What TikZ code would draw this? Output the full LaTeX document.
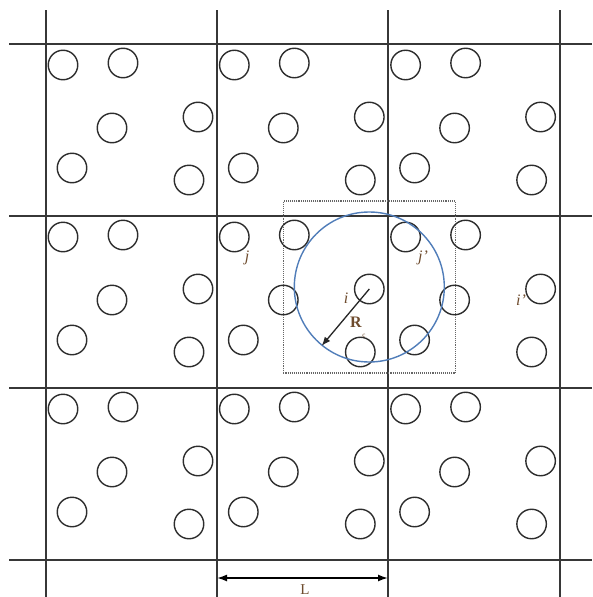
\documentclass[tikz,border=0pt]{standalone}
\usepackage{fontspec}
\setmainfont{Liberation Serif}
\usetikzlibrary{arrows.meta}
\definecolor{gridc}{RGB}{55,55,55}
\definecolor{partc}{RGB}{45,45,45}
\definecolor{cutc}{RGB}{80,125,185}
\definecolor{labc}{RGB}{110,75,45}
\tikzset{
  gridline/.style={draw=gridc, line width=1.6pt},
  particle/.style={circle, draw=partc, line width=1.4pt, minimum size=29.5pt, inner sep=0pt},
  lab/.style={text=labc, font=\itshape\fontsize{16}{16}\selectfont, inner sep=0pt},
}
\begin{document}
\begin{tikzpicture}[x=1pt,y=-1pt]
\useasboundingbox (0,0) rectangle (592,597);
\fill[white] (0,0) rectangle (592,597);
% grid
\foreach \k/\xv/\yv in {0/46/44,1/217/216,2/388/388,3/560/560}{
  \coordinate (vt\k) at (\xv,10);
  \coordinate (vb\k) at (\xv,597);
  \coordinate (hl\k) at (9,\yv);
  \coordinate (hr\k) at (592,\yv);
  \draw[gridline] (vt\k) -- (vb\k);
  \draw[gridline] (hl\k) -- (hr\k);
}
% particles
\foreach \cx/\ox in {0/46,1/217.3,2/388.6}{
  \foreach \cy/\oy in {0/44,1/216,2/388}{
    \foreach \n/\px/\py in {a/17/21,b/77/19,c/66/84,d/152/73,e/26/124,f/143/136}{
      \node[particle] (p\cx\cy\n) at (\ox+\px,\oy+\py) {};
    }
  }
}
% cutoff square and circle
\node[draw=gray!80!black, densely dotted, line width=1.1pt, minimum size=172pt, inner sep=0pt] (box) at ([yshift=2pt]p11d.center) {};
\node[circle, draw=cutc, line width=1.4pt, minimum size=150pt, inner sep=0pt] (cut) at ([yshift=2pt]p11d.center) {};
\draw[-{Latex[length=9pt,width=7pt]}, line width=1.3pt, black!85] (p11d.center) -- (cut.231);
% labels
\node[lab] (li) at (346,298) {i};
\node[lab] (lj) at (247,258) {j};
\node[lab] (ljp) at (423,258) {j'};
\node[lab] (lip) at (521,300) {i'};
\node[text=labc, font=\fontsize{16}{16}\selectfont\bfseries, inner sep=0pt] (lR) at (356,322) {R};
\node[text=labc, font=\fontsize{7}{7}\selectfont, inner sep=0pt] (lc) at (364,336) {c};
% L dimension
\coordinate (la) at (217,578);
\coordinate (lb) at (388,578);
\draw[{Latex[length=10pt,width=7pt]}-{Latex[length=10pt,width=7pt]}, line width=1.6pt] (la) -- (lb);
\node[text=labc, font=\fontsize{15}{15}\selectfont, inner sep=0pt] (lL) at (305,590) {L};
\end{tikzpicture}
\end{document}
